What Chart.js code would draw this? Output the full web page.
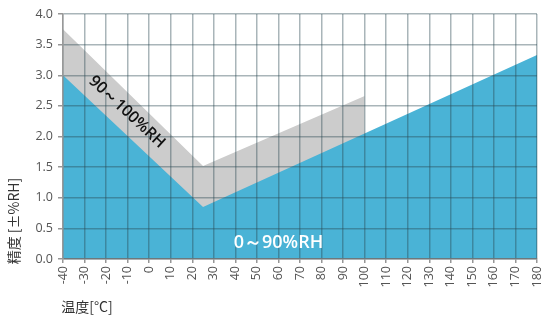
<!DOCTYPE html>
<html><head><meta charset="utf-8">
<script src="https://cdn.jsdelivr.net/npm/chart.js@4.4.1/dist/chart.umd.min.js"></script>
<style>html,body{margin:0;padding:0;background:#fff}#wrap{width:541px;height:318px}</style>
</head><body><div id="wrap"><canvas id="c" width="541" height="318"></canvas></div>
<script>
// Temperature (°C) and accuracy (±%RH)
const dryTemps = [-40, 25, 180];
const dryAcc = [3.0, 0.85, 3.33];
const wetTemps = [-40, 25, 100];
const wetAcc = [3.75, 1.52, 2.66];
const xTickValues = [-40,-30,-20,-10,0,10,20,30,40,50,60,70,80,90,100,110,120,130,140,150,160,170,180];
const yTickValues = [0,0.5,1,1.5,2,2.5,3,3.5,4];
const bandLabels = ['0～90%RH', '90～100%RH'];
const bandLabelPos = [[60, 0.27], [-10.3, 2.4]];
const xTitle = '温度[°C]';
const yTitle = '精度 [±%RH]';

const FONT = "'Open Sans', Lato, sans-serif";

const labelsPlugin = {
  id: 'labels',
  afterDraw(chart) {
    const {ctx, scales:{x, y}} = chart;
    ctx.save();
    ctx.textAlign = 'center'; ctx.textBaseline = 'middle';
    // 0~90%RH
    ctx.fillStyle = '#ffffff';
    ctx.font = "600 18px " + FONT;
    ctx.fillText(bandLabels[0], x.getPixelForValue(bandLabelPos[0][0]), y.getPixelForValue(bandLabelPos[0][1]));
    // 90~100%RH rotated
    ctx.save();
    ctx.translate(x.getPixelForValue(bandLabelPos[1][0]), y.getPixelForValue(bandLabelPos[1][1]));
    ctx.rotate(43 * Math.PI / 180);
    ctx.fillStyle = '#111111';
    ctx.font = "600 16px " + FONT;
    ctx.fillText(bandLabels[1], 0, 0);
    ctx.restore();
    // axis titles
    ctx.fillStyle = '#333333';
    ctx.font = "14px 'Noto Sans CJK JP', " + FONT;
    ctx.fillText(xTitle, 87, 307);
    ctx.save();
    ctx.translate(14, 221);
    ctx.rotate(-Math.PI / 2);
    ctx.fillText(yTitle, 0, 0);
    ctx.restore();
    ctx.restore();
  }
};

new Chart(document.getElementById('c'), {
  type: 'line',
  data: {
    datasets: [
      {
        label: bandLabels[0],
        data: dryTemps.map((t, i) => ({x: t, y: dryAcc[i]})),
        backgroundColor: '#4ab3d6',
        borderWidth: 0, pointRadius: 0, fill: 'origin', tension: 0
      },
      {
        label: bandLabels[1],
        data: wetTemps.map((t, i) => ({x: t, y: wetAcc[i]})),
        backgroundColor: '#cccccc',
        borderWidth: 0, pointRadius: 0, fill: 'origin', tension: 0
      }
    ]
  },
  options: {
    responsive: false,
    animation: false,
    devicePixelRatio: 1,
    layout: {padding: {top: 14, right: 4, left: 0, bottom: 0}},
    plugins: {legend: {display: false}, tooltip: {enabled: false}},
    scales: {
      x: {
        type: 'linear', min: -40, max: 180,
        afterBuildTicks: s => { s.ticks = xTickValues.map(v => ({value: v})); },
        afterFit: s => { s.height = 59; s.paddingLeft = 0; s.paddingRight = 0; },
        ticks: {
          minRotation: 90, maxRotation: 90, padding: 3, autoSkip: false,
          color: '#555555', font: {family: FONT, size: 12.5},
          callback: v => String(v)
        },
        grid: {z: 1, color: 'rgba(40,70,80,0.4)', lineWidth: 1.5, tickLength: 4, tickColor: 'rgba(80,80,80,0.6)'},
        border: {z: 1, color: '#999999', width: 1.5}
      },
      y: {
        type: 'linear', min: 0, max: 4,
        afterBuildTicks: s => { s.ticks = yTickValues.map(v => ({value: v})); },
        afterFit: s => { s.width = 63; s.paddingTop = 0; s.paddingBottom = 0; },
        ticks: {
          padding: 5, color: '#555555', font: {family: FONT, size: 12.5},
          callback: v => Number(v).toFixed(1)
        },
        grid: {z: 1, color: 'rgba(40,70,80,0.4)', lineWidth: 1.5, tickLength: 5, tickColor: 'rgba(80,80,80,0.6)'},
        border: {z: 1, color: '#999999', width: 1.5}
      }
    }
  },
  plugins: [labelsPlugin]
});
</script>
</body></html>
